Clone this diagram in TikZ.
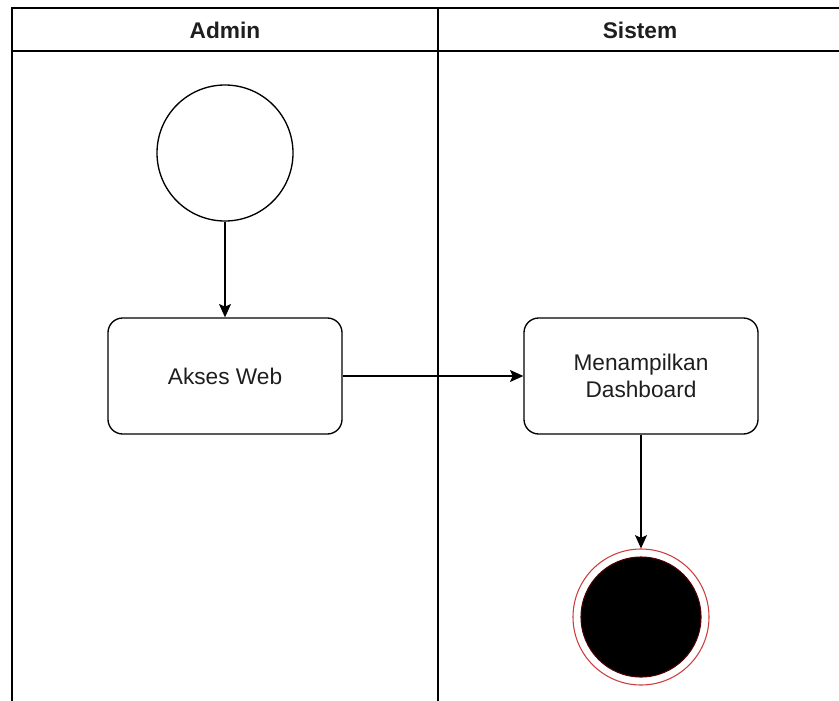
\documentclass[tikz,border=0pt]{standalone}
\usepackage{fontspec}
\setmainfont{Liberation Sans}
\usetikzlibrary{arrows.meta}
\definecolor{ringred}{RGB}{205,60,60}
\definecolor{innerred}{RGB}{80,0,0}
\definecolor{txt}{RGB}{30,30,30}

\begin{document}
\begin{tikzpicture}[x=0.75pt,y=-0.75pt,
  lane/.style={line width=1pt},
  head/.style={font=\fontsize{17}{20}\selectfont\bfseries,text=txt},
  act/.style={draw,rounded corners=11pt,line width=1pt,minimum width=175.5pt,
    minimum height=87pt,align=center,text=txt,font=\fontsize{17}{20}\selectfont},
  startnode/.style={draw,circle,line width=1pt,minimum size=102pt,inner sep=0pt},
  flow/.style={line width=1pt,-{Stealth[length=10pt,width=9pt,inset=2pt]}}]
\useasboundingbox (0,0) rectangle (839,700);
\clip (0,0) rectangle (839,700);
% lanes
\draw[lane] (12,705) -- (12,8) -- (845,8);
\draw[lane] (12,51) -- (845,51);
\draw[lane] (438,8) -- (438,705);
\node[head] (admin) at (225,30) {Admin};
\node[head] (sistem) at (640,30) {Sistem};
% activities
\node[startnode] (mulai) at (225,153) {};
\node[act] (akses) at (225,376) {Akses Web};
\node[act] (tampil) at (641,376) {Menampilkan\\Dashboard};
\node[circle,draw=ringred,line width=0.8pt,minimum size=102pt,inner sep=0pt] (selesai) at (641,617) {};
\node[circle,fill=black,draw=innerred,line width=0.8pt,minimum size=90pt,inner sep=0pt] (selesaiin) at (selesai.center) {};
\draw[flow] (mulai) -- (akses);
\draw[flow] (akses) -- (tampil);
\draw[flow] (tampil) -- (selesai);
\end{tikzpicture}
\end{document}
